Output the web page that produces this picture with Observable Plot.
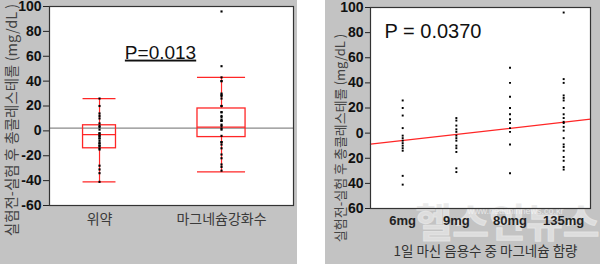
<!DOCTYPE html>
<html><head><meta charset="utf-8">
<script src="https://cdn.jsdelivr.net/npm/d3@7"></script>
<script src="https://cdn.jsdelivr.net/npm/@observablehq/plot@0.6"></script>
<style>
html,body{margin:0;padding:0;background:#fff;}
#wrap{position:relative;width:600px;height:264px;overflow:hidden;}
.panel{position:absolute;top:0;height:264px;background:#c3c3c3;overflow:hidden;}
#left{left:0;width:297px;}
#right{left:325px;width:275px;}
</style></head><body>
<div id="wrap"><div id="left" class="panel"></div><div id="right" class="panel"></div></div>
<script>
// ---- data ----
const yTicks = [-60, -40, -20, 0, 20, 40, 60, 80, 100];
const leftTickLabels = ["-60", "-40", "-20", "0", "20", "40", "60", "80", "100"];
const rightTickLabels = ["60", "40", "20", "0", "20", "40", "60", "80", "100"];
const groups = ["위약", "마그네슘강화수"];
const doses = ["6mg", "9mg", "80mg", "135mg"];
const dose6 = [26, 20, 14, 4, -2, -4, -6, -8, -10, -12, -14, -34, -41];
const dose9 = [12, 10, 6, 3, 1, -2, -4, -6, -10, -12, -15, -28, -31];
const dose80 = [52, 40, 29, 20, 15, 11, 8, 4, 1, -9, -32];
const dose135 = [96, 43, 40, 30, 28, 26, 20, 15, 12, 9, 8, 5, 2, -4, -9, -11, -14, -19, -22, -27, -29];
const boxQ1 = [-14, -5];
const boxMedian = [-3, 3];
const boxQ3 = [4.5, 18];
const whiskerLow = [-41, -33];
const whiskerHigh = [26, 43];
const refLine = [2.2];
const regIntercept = -5.9;   // fitted value at 6mg
const regSlope = 4.85;       // per dose step
const pLeft = "P=0.013";
const pRight = "P = 0.0370";
const yTitle = "실험전-실험 후 총콜레스테롤 (mg/dL )";
const xTitleRight = "1일 마신 음용수 중 마그네슘 함량";
const watermark = "헬스인뉴스";
const watermarkUrl = "www.healthinnews.co.kr";

// ---- derived tables ----
const red = "#ff2626";
const boxHalf = [0.135, 0.197];
const boxData = groups.map((g, i) => ({
  i, q1: boxQ1[i], med: boxMedian[i], q3: boxQ3[i], lo: whiskerLow[i], hi: whiskerHigh[i],
  x1: i - boxHalf[i], x2: i + boxHalf[i]
}));
const leftPoints = [
  ...[...dose6, ...dose9].map(v => ({i: 0, v})),
  ...[...dose80, ...dose135].map(v => ({i: 1, v}))
];
const rightPoints = [dose6, dose9, dose80, dose135].flatMap((arr, i) => arr.map(v => ({i, v})));
const tickFont = "'Liberation Sans Narrow', 'Liberation Sans', Arial, sans-serif";
const krFont = "'Noto Sans CJK KR', 'Noto Sans', sans-serif";

const L = Plot.plot({
  width: 297, height: 264,
  marginLeft: 49, marginRight: 4, marginTop: 6, marginBottom: 59,
  style: {background: "transparent", fontFamily: "'Liberation Sans', Arial, sans-serif", overflow: "visible"},
  x: {domain: [-0.41, 1.59], axis: null},
  y: {domain: [-60, 100], axis: null},
  marks: [
    Plot.frame({fill: "white", stroke: null}),
    Plot.ruleY(refLine, {stroke: "#8a8a8a", strokeWidth: 1.2}),
    Plot.axisY({ticks: yTicks, tickFormat: d => leftTickLabels[yTicks.indexOf(d)], tickSize: 6, tickPadding: 2,
      fontSize: 14, fontWeight: "bold", fontFamily: tickFont, fill: "#111", stroke: "#222", label: null}),
    Plot.axisX({ticks: [0, 1], tickFormat: i => groups[i], tickSize: 0, tickPadding: 9,
      fontSize: 14, fontFamily: krFont, fill: "#3a3a3a", label: null}),
    Plot.ruleX(boxData, {x: "i", y1: "q3", y2: "hi", stroke: red, strokeWidth: 1.2}),
    Plot.ruleX(boxData, {x: "i", y1: "lo", y2: "q1", stroke: red, strokeWidth: 1.2}),
    Plot.rect(boxData, {x1: "x1", x2: "x2", y1: "q1", y2: "q3", stroke: red, strokeWidth: 1.3, fill: "none"}),
    Plot.ruleY(boxData, {y: "med", x1: "x1", x2: "x2", stroke: red, strokeWidth: 1.3}),
    Plot.ruleY(boxData, {y: "hi", x1: "x1", x2: "x2", stroke: red, strokeWidth: 1.3}),
    Plot.ruleY(boxData, {y: "lo", x1: "x1", x2: "x2", stroke: red, strokeWidth: 1.3}),
    Plot.dot(leftPoints, {x: "i", y: "v", symbol: "square", r: 1.2, fill: "black", stroke: null}),
    Plot.text([pLeft], {x: 0.5, y: 63, text: d => d, fontSize: 19, fill: "#111"}),
    Plot.text([yTitle], {frameAnchor: "left", textAnchor: "middle", rotate: -90, dx: -37, dy: 14, text: d => d,
      fontSize: 14.5, fontFamily: krFont, fill: "#444"}),
    Plot.frame({stroke: "#333", strokeWidth: 1.2})
  ]
});
d3.select(L).selectAll("text").filter(function () { return this.textContent === pLeft; })
  .style("text-decoration", "underline");
document.getElementById("left").append(L);

const xDom = [-0.6, 3.5];
const regLine = xDom.map(x => ({x, y: regIntercept + regSlope * x}));

const R = Plot.plot({
  width: 275, height: 264,
  marginLeft: 45, marginRight: 10, marginTop: 7, marginBottom: 56,
  style: {background: "transparent", fontFamily: "'Liberation Sans', Arial, sans-serif", overflow: "visible"},
  x: {domain: xDom, axis: null},
  y: {domain: [-60, 100], axis: null},
  marks: [
    Plot.frame({fill: "white", stroke: null}),
    Plot.text([watermark], {frameAnchor: "bottom", dx: 27, dy: 28, text: d => d, fontSize: 40, fontWeight: "bold",
      fontFamily: krFont, fill: "#e6e6e6", fillOpacity: 0.75, stroke: "#ffffff", strokeOpacity: 0.5, strokeWidth: 1}),
    Plot.text([watermarkUrl], {frameAnchor: "bottom", dx: 35, dy: 5, text: d => d, fontSize: 9,
      fill: "#ffffff", fillOpacity: 0.6}),
    Plot.axisY({ticks: yTicks, tickFormat: d => rightTickLabels[yTicks.indexOf(d)], tickSize: 5, tickPadding: 2,
      fontSize: 14, fontWeight: "bold", fontFamily: tickFont, fill: "#111", stroke: "#222", label: null}),
    Plot.axisX({ticks: [0, 1, 2, 3], tickFormat: i => doses[i], tickSize: 0, tickPadding: 7,
      fontSize: 13, fontWeight: "bold", fill: "#222", label: null}),
    Plot.line(regLine, {x: "x", y: "y", stroke: red, strokeWidth: 1.3}),
    Plot.dot(rightPoints, {x: "i", y: "v", symbol: "square", r: 1.1, fill: "black", stroke: null}),
    Plot.text([pRight], {frameAnchor: "top-left", dx: 14, dy: 16, text: d => d, fontSize: 20, fill: "#111", textAnchor: "start"}),
    Plot.text([yTitle], {frameAnchor: "left", textAnchor: "middle", rotate: -90, dx: -30, dy: 30, text: d => d,
      fontSize: 13, fontFamily: krFont, fill: "#444"}),
    Plot.text([xTitleRight], {frameAnchor: "bottom", dx: 5, dy: 47, text: d => d,
      fontSize: 13.5, fontFamily: krFont, fill: "#333"}),
    Plot.frame({stroke: "#333", strokeWidth: 1.2})
  ]
});
document.getElementById("right").append(R);
</script>
</body></html>
